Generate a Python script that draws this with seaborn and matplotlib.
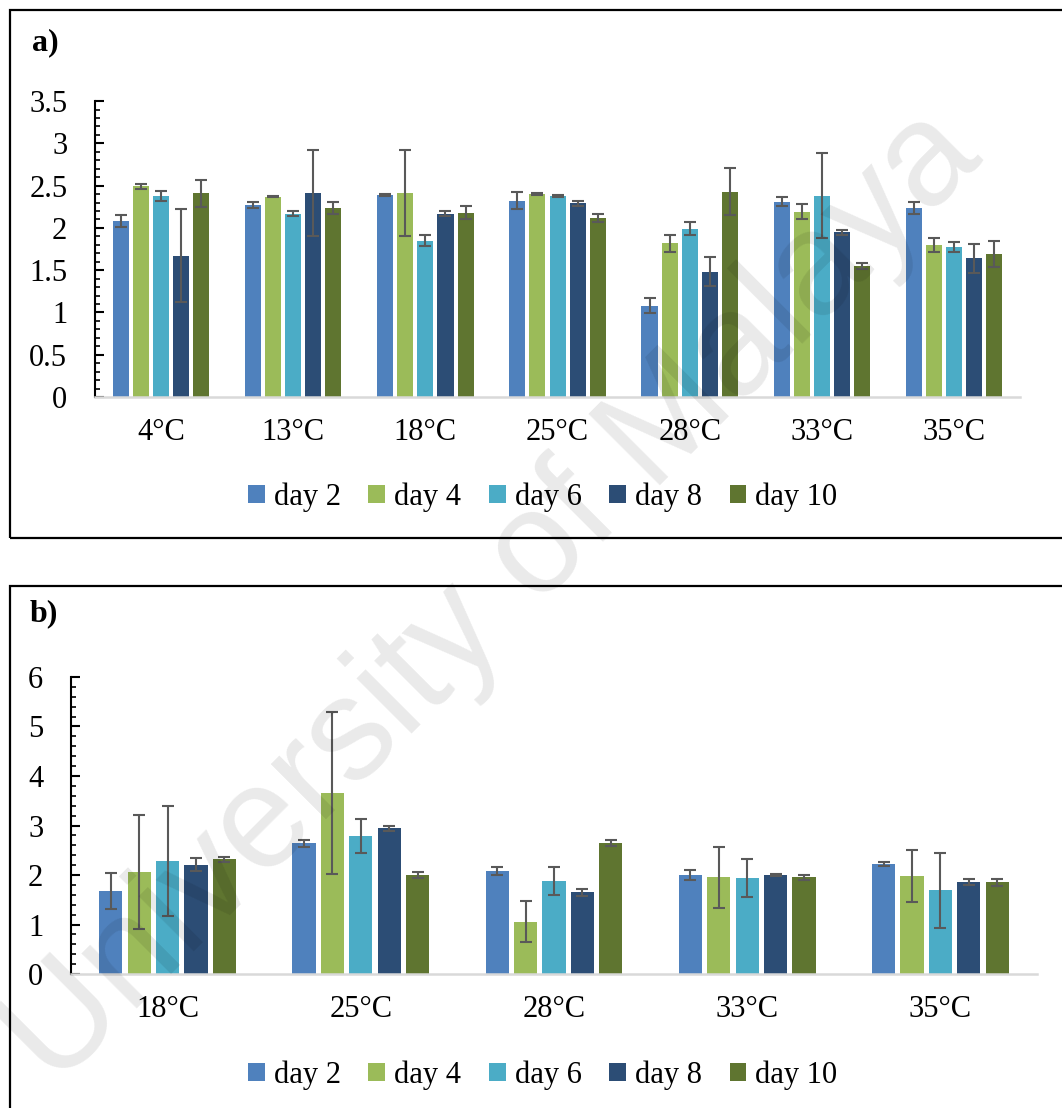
import numpy as np
import pandas as pd
import matplotlib
matplotlib.use("Agg")
import matplotlib.pyplot as plt
import seaborn as sns
from matplotlib.patches import Rectangle
from matplotlib.ticker import MultipleLocator

# ---------------- data ----------------
days = ["day 2", "day 4", "day 6", "day 8", "day 10"]
colors = ["#4F81BD", "#9BBB59", "#4BACC6", "#2C4D75", "#5F7530"]

temps_a = ["4°C", "13°C", "18°C", "25°C", "28°C", "33°C", "35°C"]
a_day2 = [2.08, 2.27, 2.39, 2.32, 1.08, 2.31, 2.24]
a_day4 = [2.49, 2.37, 2.41, 2.40, 1.82, 2.19, 1.80]
a_day6 = [2.38, 2.17, 1.85, 2.38, 1.99, 2.38, 1.77]
a_day8 = [1.67, 2.41, 2.17, 2.29, 1.48, 1.95, 1.64]
a_day10 = [2.41, 2.24, 2.18, 2.12, 2.43, 1.55, 1.69]
a_err2 = [0.07, 0.04, 0.01, 0.10, 0.09, 0.05, 0.07]
a_err4 = [0.03, 0.01, 0.51, 0.01, 0.10, 0.09, 0.08]
a_err6 = [0.06, 0.035, 0.07, 0.01, 0.075, 0.50, 0.06]
a_err8 = [0.55, 0.51, 0.035, 0.03, 0.17, 0.03, 0.17]
a_err10 = [0.16, 0.07, 0.08, 0.05, 0.28, 0.035, 0.15]

temps_b = ["18°C", "25°C", "28°C", "33°C", "35°C"]
b_day2 = [1.68, 2.64, 2.08, 2.00, 2.22]
b_day4 = [2.06, 3.66, 1.06, 1.95, 1.98]
b_day6 = [2.28, 2.79, 1.88, 1.94, 1.69]
b_day8 = [2.21, 2.94, 1.65, 2.00, 1.85]
b_day10 = [2.32, 2.00, 2.65, 1.95, 1.85]
b_err2 = [0.36, 0.064, 0.088, 0.10, 0.037]
b_err4 = [1.16, 1.63, 0.41, 0.62, 0.53]
b_err6 = [1.11, 0.34, 0.29, 0.38, 0.76]
b_err8 = [0.135, 0.047, 0.064, 0.02, 0.06]
b_err10 = [0.054, 0.057, 0.067, 0.054, 0.067]

# ---------------- style ----------------
sns.set_theme(style="white")
plt.rcParams["font.family"] = ["Liberation Serif", "DejaVu Serif"]
plt.rcParams["text.color"] = "black"
FS = 22

fig = plt.figure(figsize=(10.62, 11.08), dpi=100)


def long_df(temps, series):
    rows = []
    for d, vals in zip(days, series):
        for t, v in zip(temps, vals):
            rows.append({"temp": t, "day": d, "value": v})
    return pd.DataFrame(rows)


def panel(rect, temps, series, errs, ymax, major, minor, width, gap, label,
          label_pos, legend_pos, box):
    # frame around panel
    fig.patches.append(Rectangle((box[0], box[1]), box[2], box[3],
                                 transform=fig.transFigure, fill=False,
                                 edgecolor="black", linewidth=1.6, zorder=0))
    ax = fig.add_axes(rect)
    df = long_df(temps, series)
    sns.barplot(data=df, x="temp", y="value", hue="day", order=temps,
                hue_order=days, palette=colors, width=width, gap=gap,
                errorbar=None, ax=ax, saturation=1, linewidth=0)
    for cont, e in zip(ax.containers, errs):
        xs = [b.get_x() + b.get_width() / 2 for b in cont]
        hs = [b.get_height() for b in cont]
        ax.errorbar(xs, hs, yerr=e, fmt="none", ecolor="#595959",
                    elinewidth=1.5, capsize=4.5, capthick=1.5, zorder=5)
    ax.set_ylim(0, ymax)
    ax.set_xlim(-0.5, len(temps) - 0.5)
    ax.yaxis.set_major_locator(MultipleLocator(major))
    ax.yaxis.set_minor_locator(MultipleLocator(minor))
    ax.yaxis.set_major_formatter(matplotlib.ticker.FuncFormatter(
        lambda v, p: f"{v:g}"))
    ax.set_xlabel("")
    ax.set_ylabel("")
    for s in ["top", "right"]:
        ax.spines[s].set_visible(False)
    ax.spines["left"].set_color("black")
    ax.spines["left"].set_linewidth(1.5)
    ax.spines["bottom"].set_color("#d9d9d9")
    ax.spines["bottom"].set_linewidth(1.8)
    ax.tick_params(axis="y", which="major", direction="in", length=6.5,
                   width=1.5, color="black", labelsize=FS, pad=20, left=True)
    ax.tick_params(axis="y", which="minor", direction="in", length=3.8,
                   width=1.2, color="black", left=True)
    ax.tick_params(axis="x", length=0, labelsize=FS, pad=15)
    for t in ax.get_xticklabels() + ax.get_yticklabels():
        t.set_color("black")
    sns.move_legend(ax, "center", bbox_to_anchor=legend_pos,
                    bbox_transform=fig.transFigure, ncol=5, frameon=False,
                    title=None, fontsize=FS, handlelength=0.55,
                    handleheight=0.55, handletextpad=0.3, columnspacing=0.9,
                    labelcolor="black")
    fig.text(label_pos[0], label_pos[1], label, fontsize=FS + 1,
             fontweight="bold", ha="left", va="center", color="black")
    return ax


panel([0.0895, 0.6417, 0.871, 0.2671], temps_a,
      [a_day2, a_day4, a_day6, a_day8, a_day10],
      [a_err2, a_err4, a_err6, a_err8, a_err10],
      3.5, 0.5, 0.1, 0.76, 0.2, "a)", (0.030, 0.961), (0.511, 0.5514),
      (0.0094, 0.5144, 1.2, 0.477))

panel([0.0669, 0.1209, 0.9096, 0.2681], temps_b,
      [b_day2, b_day4, b_day6, b_day8, b_day10],
      [b_err2, b_err4, b_err6, b_err8, b_err10],
      6, 1, 0.2, 0.735, 0.18, "b)", (0.028, 0.446), (0.511, 0.0298),
      (0.0094, -0.2, 1.2, 0.6711))

# watermark
fig.text(0.465, 0.46, "University of Malaya", fontsize=105,
         family=["Liberation Sans", "DejaVu Sans"], color="black", alpha=0.085,
         rotation=45, ha="center", va="center", rotation_mode="anchor",
         zorder=10)

fig.savefig("out.png", dpi=100)
